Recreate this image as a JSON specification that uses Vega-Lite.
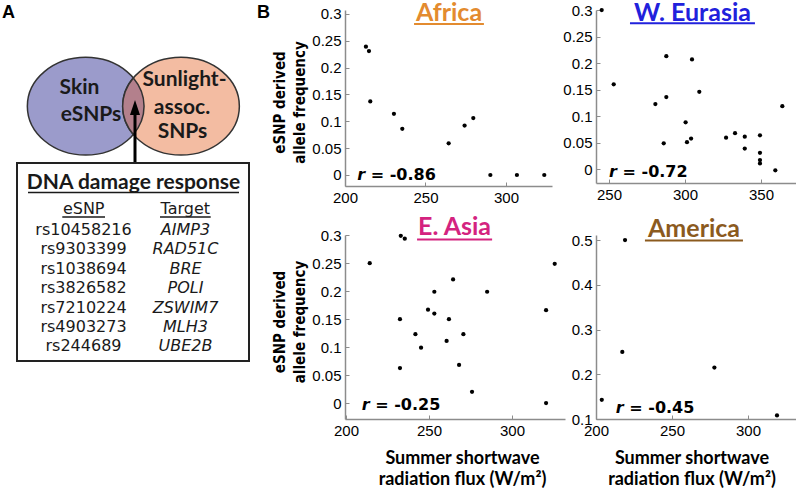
{
  "$schema": "https://vega.github.io/schema/vega-lite/v6.json",
  "padding": 0,
  "background": "white",
  "config": {
    "view": {"stroke": null},
    "axis": {"grid": false, "domainColor": "#8c8c8c", "domainWidth": 1.5, "tickColor": "#8c8c8c", "tickWidth": 1, "tickSize": -4, "tickCount": 20, "labelPadding": 8, "labelFont": "Liberation Sans", "labelFontSize": 15, "labelColor": "#000", "labelFlush": false, "labelOverlap": false, "labelBound": false, "titleColor": "#000"}
  },
  "datasets": {
    "africa": [
      {"x": 213, "y": 0.239}, {"x": 214.9, "y": 0.231}, {"x": 215.7, "y": 0.137}, {"x": 230.4, "y": 0.114},
      {"x": 235.6, "y": 0.086}, {"x": 264.4, "y": 0.059}, {"x": 274.3, "y": 0.092}, {"x": 279.7, "y": 0.106},
      {"x": 290.3, "y": 0}, {"x": 306.8, "y": 0}, {"x": 323.8, "y": 0}
    ],
    "weurasia": [
      {"x": 245.2, "y": 0.300}, {"x": 253.1, "y": 0.160}, {"x": 287.7, "y": 0.213}, {"x": 304.6, "y": 0.207},
      {"x": 309.4, "y": 0.146}, {"x": 280.5, "y": 0.123}, {"x": 287.7, "y": 0.136}, {"x": 300.4, "y": 0.0885},
      {"x": 286, "y": 0.049}, {"x": 301.3, "y": 0.051}, {"x": 304, "y": 0.058}, {"x": 327, "y": 0.0595},
      {"x": 332.9, "y": 0.068}, {"x": 339.3, "y": 0.0615}, {"x": 339.3, "y": 0.039}, {"x": 349.3, "y": 0.064},
      {"x": 349.3, "y": 0.031}, {"x": 349.3, "y": 0.0175}, {"x": 349.3, "y": 0.011}, {"x": 359.4, "y": -0.002},
      {"x": 364, "y": 0.119}
    ],
    "easia": [
      {"x": 233, "y": 0.299}, {"x": 235.4, "y": 0.294}, {"x": 214.3, "y": 0.25}, {"x": 264.5, "y": 0.221},
      {"x": 253.2, "y": 0.199}, {"x": 285, "y": 0.199}, {"x": 249.4, "y": 0.167}, {"x": 253.2, "y": 0.16},
      {"x": 232.5, "y": 0.15}, {"x": 262, "y": 0.15}, {"x": 241.8, "y": 0.123}, {"x": 270.7, "y": 0.123},
      {"x": 245.2, "y": 0.099}, {"x": 260.6, "y": 0.111}, {"x": 232.5, "y": 0.0625}, {"x": 268.1, "y": 0.068},
      {"x": 275.9, "y": 0.02}, {"x": 320.5, "y": 0.166}, {"x": 325.7, "y": 0.249}, {"x": 320.5, "y": 0}
    ],
    "america": [
      {"x": 219.1, "y": 0.5}, {"x": 217.3, "y": 0.25}, {"x": 203.8, "y": 0.143}, {"x": 277.9, "y": 0.215}, {"x": 319.1, "y": 0.108}
    ],
    "vennText": [
      {"x": 79.5, "y": 94, "t": "Skin"}, {"x": 91, "y": 121, "t": "eSNPs"},
      {"x": 184.5, "y": 86, "t": "Sunlight-"}, {"x": 182, "y": 114, "t": "assoc."}, {"x": 182.5, "y": 138, "t": "SNPs"},
      {"x": 133.5, "y": 189, "t": "DNA damage response"}
    ],
    "tableHead": [
      {"x": 83.7, "y": 214, "t": "eSNP"}, {"x": 185.3, "y": 214, "t": "Target"}
    ],
    "underlinesA": [
      {"x": 28, "x2": 239, "y": 192.5}, {"x": 62.3, "x2": 105, "y": 217}, {"x": 160, "x2": 210.7, "y": 217}
    ],
    "snps": [
      {"x": 83.5, "y": 235, "t": "rs10458216"}, {"x": 83.5, "y": 254.4, "t": "rs9303399"},
      {"x": 83.5, "y": 273.8, "t": "rs1038694"}, {"x": 83.5, "y": 293.2, "t": "rs3826582"},
      {"x": 83.5, "y": 312.6, "t": "rs7210224"}, {"x": 83.5, "y": 332, "t": "rs4903273"},
      {"x": 83.5, "y": 351.4, "t": "rs244689"}
    ],
    "targets": [
      {"x": 185.5, "y": 235, "t": "AIMP3"}, {"x": 185.5, "y": 254.4, "t": "RAD51C"},
      {"x": 185.5, "y": 273.8, "t": "BRE"}, {"x": 185.5, "y": 293.2, "t": "POLI"},
      {"x": 185.5, "y": 312.6, "t": "ZSWIM7"}, {"x": 185.5, "y": 332, "t": "MLH3"},
      {"x": 185.5, "y": 351.4, "t": "UBE2B"}
    ],
    "letters": [
      {"x": 8.5, "y": 18, "t": "A"}, {"x": 263.5, "y": 18, "t": "B"}
    ]
  },
  "columns": 3,
  "spacing": {"row": 49, "column": 31},
  "bounds": "flush",
  "concat": [
    {
      "width": 314,
      "height": 176,
      "encoding": {
        "x": {"field": "x", "type": "quantitative", "scale": {"domain": [0, 314], "nice": false, "zero": false}, "axis": null},
        "y": {"field": "y", "type": "quantitative", "scale": {"domain": [10, 186], "nice": false, "zero": false, "reverse": true}, "axis": null}
      },
      "layer": [
        {"data": {"values": [{"x": 0, "x2": 1, "y": 0, "y2": 1}]},
         "mark": {"type": "rect", "opacity": 0},
         "encoding": {"x2": {"field": "x2"}, "y2": {"field": "y2"}}},
        {"data": {"values": [{"x": 85.7, "y": 106.2}]},
         "mark": {"type": "point", "shape": "M-1,0A1,0.837,0,1,0,1,0A1,0.837,0,1,0,-1,0Z", "size": 13619, "filled": true, "fill": "#9b9bcb", "stroke": "#333333", "strokeWidth": 1.5, "opacity": 1}},
        {"data": {"values": [{"x": 181, "y": 106.2}]},
         "mark": {"type": "point", "shape": "M-1,0A1,0.837,0,1,0,1,0A1,0.837,0,1,0,-1,0Z", "size": 13619, "filled": true, "fill": "#f3bca2", "stroke": "#333333", "strokeWidth": 1.5, "opacity": 1}},
        {"data": {"values": [{"x": 133.35, "y": 106.2}]},
         "mark": {"type": "point", "shape": "M0,-0.94A1.945,1.628,0,0,1,0,0.94A1.945,1.628,0,0,1,0,-0.94Z", "size": 3600, "filled": true, "fill": "#b3808c", "stroke": "#333333", "strokeWidth": 1.5, "opacity": 1}},
        {"data": {"values": [{"x": 135, "y": 112, "y2": 163}]},
         "mark": {"type": "rule", "color": "#000", "strokeWidth": 3},
         "encoding": {"y2": {"field": "y2"}}},
        {"data": {"values": [{"x": 135, "y": 107.5}]},
         "mark": {"type": "point", "shape": "M0,-1L0.667,1L-0.667,1Z", "size": 225, "filled": true, "color": "#000", "opacity": 1}},
        {"data": {"values": [{"x": 17, "x2": 249, "y": 163, "y2": 361}]},
         "mark": {"type": "rect", "fill": "white", "stroke": "#222222", "strokeWidth": 2},
         "encoding": {"x2": {"field": "x2"}, "y2": {"field": "y2"}}},
        {"data": {"name": "vennText"},
         "mark": {"type": "text", "font": "Lato", "fontWeight": "bold", "fontSize": 21, "align": "center", "baseline": "alphabetic", "color": "#1a1a1a"},
         "encoding": {"text": {"field": "t"}}},
        {"data": {"name": "underlinesA"},
         "mark": {"type": "rule", "color": "#1a1a1a", "strokeWidth": 1.5},
         "encoding": {"x2": {"field": "x2"}}},
        {"data": {"name": "tableHead"},
         "mark": {"type": "text", "font": "DejaVu Sans", "fontSize": 16, "align": "center", "baseline": "alphabetic", "color": "#1a1a1a"},
         "encoding": {"text": {"field": "t"}}},
        {"data": {"name": "snps"},
         "mark": {"type": "text", "font": "DejaVu Sans", "fontSize": 16, "align": "center", "baseline": "alphabetic", "color": "#1a1a1a"},
         "encoding": {"text": {"field": "t"}}},
        {"data": {"name": "targets"},
         "mark": {"type": "text", "font": "DejaVu Sans", "fontStyle": "italic", "fontSize": 16, "align": "center", "baseline": "alphabetic", "color": "#1a1a1a"},
         "encoding": {"text": {"field": "t"}}},
        {"data": {"name": "letters"},
         "mark": {"type": "text", "font": "Liberation Sans", "fontWeight": "bold", "fontSize": 18, "align": "center", "baseline": "alphabetic", "color": "#000"},
         "encoding": {"text": {"field": "t"}}}
      ]
    },
    {
      "width": 207, "height": 176,
      "layer": [
        {"data": {"name": "africa"},
         "mark": {"type": "circle", "color": "#000", "size": 18, "opacity": 1},
         "encoding": {
           "x": {"field": "x", "type": "quantitative", "scale": {"domain": [200, 328.6], "nice": false, "zero": false}, "axis": {"values": [200, 250, 300], "tickCount": 20, "title": null, "labelOverlap": false}},
           "y": {"field": "y", "type": "quantitative", "scale": {"domain": [-0.0205, 0.3074], "nice": false, "zero": false},
                 "axis": {"values": [0, 0.05, 0.1, 0.15, 0.2, 0.25, 0.3], "tickCount": 20, "format": ".2~f", "labelOverlap": false, "title": ["eSNP derived", "allele frequency"], "titleFont": "DejaVu Sans Condensed", "titleFontWeight": "bold", "titleFontSize": 15, "titleLineHeight": 20, "titleAngle": -90, "titleBaseline": "bottom", "titleAlign": "center", "titleX": -57.5, "titleY": 92}}
         }},
        {"data": {"values": [{}]},
         "mark": {"type": "text", "text": "Africa", "font": "Lato", "fontWeight": "bold", "fontSize": 25, "color": "#e38b2f", "align": "center", "baseline": "alphabetic"},
         "encoding": {"x": {"datum": 264.6, "type": "quantitative"}, "y": {"datum": 0.2875, "type": "quantitative"}}},
        {"data": {"values": [{}]},
         "mark": {"type": "rule", "color": "#e38b2f", "strokeWidth": 2},
         "encoding": {"x": {"datum": 242.9, "type": "quantitative"}, "x2": {"datum": 286.3}, "y": {"datum": 0.2813, "type": "quantitative"}}},
        {"data": {"values": [{}]},
         "mark": {"type": "text", "text": "r", "font": "DejaVu Sans", "fontWeight": "bold", "fontStyle": "italic", "fontSize": 16, "color": "#000", "align": "left", "baseline": "alphabetic"},
         "encoding": {"x": {"datum": 207.6, "type": "quantitative"}, "y": {"datum": -0.0093, "type": "quantitative"}}},
        {"data": {"values": [{}]},
         "mark": {"type": "text", "text": "= -0.86", "font": "DejaVu Sans", "fontWeight": "bold", "fontSize": 16, "color": "#000", "align": "left", "baseline": "alphabetic"},
         "encoding": {"x": {"datum": 216.0, "type": "quantitative"}, "y": {"datum": -0.0093, "type": "quantitative"}}}
      ]
    },
    {
      "width": 200, "height": 173,
      "layer": [
        {"data": {"name": "weurasia"},
         "mark": {"type": "circle", "color": "#000", "size": 18, "opacity": 1},
         "encoding": {
           "x": {"field": "x", "type": "quantitative", "scale": {"domain": [241.45, 373.0], "nice": false, "zero": false}, "axis": {"values": [250, 300, 350], "tickCount": 20, "title": null, "labelOverlap": false}},
           "y": {"field": "y", "type": "quantitative", "scale": {"domain": [-0.0258, 0.3001], "nice": false, "zero": false},
                 "axis": {"values": [0, 0.05, 0.1, 0.15, 0.2, 0.25, 0.3], "tickCount": 20, "format": ".2~f", "labelOverlap": false, "title": null}}
         }},
        {"data": {"values": [{}]},
         "mark": {"type": "text", "text": "W. Eurasia", "font": "Lato", "fontWeight": "bold", "fontSize": 25, "color": "#2121dc", "align": "center", "baseline": "alphabetic"},
         "encoding": {"x": {"datum": 304.9, "type": "quantitative"}, "y": {"datum": 0.2798, "type": "quantitative"}}},
        {"data": {"values": [{}]},
         "mark": {"type": "rule", "color": "#2121dc", "strokeWidth": 2},
         "encoding": {"x": {"datum": 263.8, "type": "quantitative"}, "x2": {"datum": 346.0}, "y": {"datum": 0.275, "type": "quantitative"}}},
        {"data": {"values": [{}]},
         "mark": {"type": "text", "text": "r", "font": "DejaVu Sans", "fontWeight": "bold", "fontStyle": "italic", "fontSize": 16, "color": "#000", "align": "left", "baseline": "alphabetic"},
         "encoding": {"x": {"datum": 250.0, "type": "quantitative"}, "y": {"datum": -0.0139, "type": "quantitative"}}},
        {"data": {"values": [{}]},
         "mark": {"type": "text", "text": "= -0.72", "font": "DejaVu Sans", "fontWeight": "bold", "fontSize": 16, "color": "#000", "align": "left", "baseline": "alphabetic"},
         "encoding": {"x": {"datum": 258.9, "type": "quantitative"}, "y": {"datum": -0.0139, "type": "quantitative"}}}
      ]
    },
    {"width": 10, "height": 10, "data": {"values": [{}]}, "mark": {"type": "point", "opacity": 0}, "encoding": {}},
    {
      "width": 220, "height": 184,
      "layer": [
        {"data": {"name": "easia"},
         "mark": {"type": "circle", "color": "#000", "size": 18, "opacity": 1},
         "encoding": {
           "x": {"field": "x", "type": "quantitative", "scale": {"domain": [199.4, 331.9], "nice": false, "zero": false},
                 "axis": {"values": [200, 250, 300], "tickCount": 20, "labelOverlap": false, "title": ["Summer shortwave", "radiation flux (W/m²)"], "titleFont": "Lato", "titleFontWeight": "bold", "titleFontSize": 18, "titleLineHeight": 21, "titleBaseline": "alphabetic", "titleAlign": "center", "titleX": 117, "titleY": 44}},
           "y": {"field": "y", "type": "quantitative", "scale": {"domain": [-0.0286, 0.3005], "nice": false, "zero": false},
                 "axis": {"values": [0, 0.05, 0.1, 0.15, 0.2, 0.25, 0.3], "tickCount": 20, "format": ".2~f", "labelOverlap": false, "title": ["eSNP derived", "allele frequency"], "titleFont": "DejaVu Sans Condensed", "titleFontWeight": "bold", "titleFontSize": 15, "titleLineHeight": 20, "titleAngle": -90, "titleBaseline": "bottom", "titleAlign": "center", "titleX": -57.5, "titleY": 86.5}}
         }},
        {"data": {"values": [{}]},
         "mark": {"type": "text", "text": "E. Asia", "font": "Lato", "fontWeight": "bold", "fontSize": 25, "color": "#d4237f", "align": "center", "baseline": "alphabetic"},
         "encoding": {"x": {"datum": 265.4, "type": "quantitative"}, "y": {"datum": 0.3005, "type": "quantitative"}}},
        {"data": {"values": [{}]},
         "mark": {"type": "rule", "color": "#d4237f", "strokeWidth": 2},
         "encoding": {"x": {"datum": 242.8, "type": "quantitative"}, "x2": {"datum": 288.0}, "y": {"datum": 0.2925, "type": "quantitative"}}},
        {"data": {"values": [{}]},
         "mark": {"type": "text", "text": "r", "font": "DejaVu Sans", "fontWeight": "bold", "fontStyle": "italic", "fontSize": 16, "color": "#000", "align": "left", "baseline": "alphabetic"},
         "encoding": {"x": {"datum": 209.5, "type": "quantitative"}, "y": {"datum": -0.012, "type": "quantitative"}}},
        {"data": {"values": [{}]},
         "mark": {"type": "text", "text": "= -0.25", "font": "DejaVu Sans", "fontWeight": "bold", "fontSize": 16, "color": "#000", "align": "left", "baseline": "alphabetic"},
         "encoding": {"x": {"datum": 217.6, "type": "quantitative"}, "y": {"datum": -0.012, "type": "quantitative"}}}
      ]
    },
    {
      "width": 200, "height": 184,
      "layer": [
        {"data": {"name": "america"},
         "mark": {"type": "circle", "color": "#000", "size": 18, "opacity": 1},
         "encoding": {
           "x": {"field": "x", "type": "quantitative", "scale": {"domain": [200, 331.6], "nice": false, "zero": false},
                 "axis": {"values": [200, 250, 300], "tickCount": 20, "labelOverlap": false, "title": ["Summer shortwave", "radiation flux (W/m²)"], "titleFont": "Lato", "titleFontWeight": "bold", "titleFontSize": 18, "titleLineHeight": 21, "titleBaseline": "alphabetic", "titleAlign": "center", "titleX": 95.5, "titleY": 44}},
           "y": {"field": "y", "type": "quantitative", "scale": {"domain": [0.1, 0.5112], "nice": false, "zero": false},
                 "axis": {"values": [0.1, 0.2, 0.3, 0.4, 0.5], "tickCount": 20, "format": ".2~f", "labelOverlap": false, "title": null}}
         }},
        {"data": {"values": [{}]},
         "mark": {"type": "text", "text": "America", "font": "Lato", "fontWeight": "bold", "fontSize": 25, "color": "#8b5a1e", "align": "center", "baseline": "alphabetic"},
         "encoding": {"x": {"datum": 264.5, "type": "quantitative"}, "y": {"datum": 0.5078, "type": "quantitative"}}},
        {"data": {"values": [{}]},
         "mark": {"type": "rule", "color": "#8b5a1e", "strokeWidth": 2},
         "encoding": {"x": {"datum": 232.2, "type": "quantitative"}, "x2": {"datum": 296.7}, "y": {"datum": 0.4989, "type": "quantitative"}}},
        {"data": {"values": [{}]},
         "mark": {"type": "text", "text": "r", "font": "DejaVu Sans", "fontWeight": "bold", "fontStyle": "italic", "fontSize": 16, "color": "#000", "align": "left", "baseline": "alphabetic"},
         "encoding": {"x": {"datum": 213.0, "type": "quantitative"}, "y": {"datum": 0.114, "type": "quantitative"}}},
        {"data": {"values": [{}]},
         "mark": {"type": "text", "text": "= -0.45", "font": "DejaVu Sans", "fontWeight": "bold", "fontSize": 16, "color": "#000", "align": "left", "baseline": "alphabetic"},
         "encoding": {"x": {"datum": 221.9, "type": "quantitative"}, "y": {"datum": 0.114, "type": "quantitative"}}}
      ]
    }
  ]
}
